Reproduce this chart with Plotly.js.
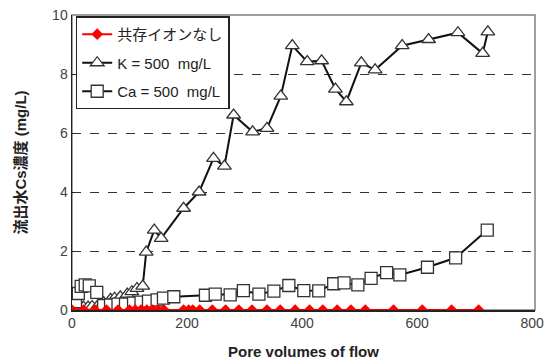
<!DOCTYPE html>
<html>
<head>
<meta charset="utf-8">
<script src="https://cdn.plot.ly/plotly-3.0.1.min.js"></script>
<style>html,body{margin:0;padding:0;background:#fff;}#chart{width:552px;height:363px;}</style>
</head>
<body>
<div id="chart"></div>
<script>
// Series names
const seriesNames = ["共存イオンなし", "K = 500  mg/L", "Ca = 500  mg/L"];

// No co-existing ions (red diamonds)
const noneX = [0, 20, 40, 60, 80, 100, 110, 120, 130, 140, 150, 160, 194, 203, 210, 222, 244, 267, 290, 313, 339, 362, 388, 413, 436, 461, 485, 510, 559, 609, 660, 707];
const noneY = [0, 0, 0, 0, 0, 0, 0, 0, 0, 0, 0, 0, 0, 0, 0, 0, 0, 0, 0, 0, 0, 0, 0, 0, 0, 0, 0, 0, 0, 0, 0, 0];

// K = 500 mg/L (open triangles)
const kX = [3, 10, 20, 28, 35, 45, 55, 67, 74, 84, 96, 104, 113, 123, 129, 143, 155, 194, 221, 246, 265, 281, 314, 339, 363, 383, 409, 434, 458, 477, 503, 527, 574, 620, 671, 714, 723];
const kY = [0.02, 0.05, 0.1, 0.1, 0.12, 0.15, 0.25, 0.36, 0.40, 0.45, 0.54, 0.62, 0.73, 0.81, 1.96, 2.71, 2.43, 3.45, 4.0, 5.14, 4.88, 6.61, 6.04, 6.16, 7.25, 8.96, 8.42, 8.45, 7.49, 7.06, 8.38, 8.14, 8.96, 9.17, 9.40, 8.70, 9.43];

// Ca = 500 mg/L (open squares)
const caX = [3, 6, 11, 16, 23, 30, 43, 55, 67, 80, 93, 107, 120, 133, 148, 159, 177, 232, 249, 275, 298, 325, 351, 377, 403, 429, 455, 473, 497, 520, 547, 570, 618, 667, 722];
const caY = [0.55, 0.28, 0.56, 0.8, 0.85, 0.82, 0.6, 0.15, 0.17, 0.2, 0.2, 0.23, 0.27, 0.3, 0.34, 0.4, 0.45, 0.5, 0.54, 0.51, 0.66, 0.54, 0.64, 0.83, 0.66, 0.65, 0.89, 0.92, 0.85, 1.07, 1.27, 1.19, 1.45, 1.77, 2.71];

// Axis ticks
const xTicks = [0, 200, 400, 600, 800];
const yTicks = [0, 2, 4, 6, 8, 10];

const traces = [
  {
    x: kX, y: kY, name: seriesNames[1], legendrank: 2, legendgroup: "k",
    mode: "lines+markers", type: "scatter",
    line: {color: "#111", width: 2},
    marker: {symbol: "triangle-up", size: 12, color: "#fff", line: {color: "#333", width: 1.3}}
  },
  {
    x: caX, y: caY, name: seriesNames[2], legendrank: 3, legendgroup: "ca",
    mode: "lines+markers", type: "scatter",
    line: {color: "#111", width: 2},
    marker: {symbol: "square", size: 12, color: "#fff", line: {color: "#333", width: 1.3}}
  },
  {
    x: noneX, y: noneY, name: seriesNames[0], legendrank: 1, legendgroup: "none",
    mode: "lines+markers", type: "scatter",
    line: {color: "#ff0000", width: 2},
    marker: {symbol: "diamond", size: 9, color: "#ff0000"}
  }
];

const fontFam = "Liberation Sans, Arial, Noto Sans CJK JP, sans-serif";

const layout = {
  width: 552, height: 363,
  margin: {l: 72, r: 17, t: 15, b: 53},
  paper_bgcolor: "#fff", plot_bgcolor: "#fff",
  font: {family: fontFam, size: 14, color: "#404040"},
  showlegend: true,
  legend: {
    x: 0.008, y: 0.995, xanchor: "left", yanchor: "top",
    bordercolor: "#222", borderwidth: 1.5, bgcolor: "#fff",
    font: {family: fontFam, size: 15, color: "#222"},
    tracegroupgap: 6, itemwidth: 30
  },
  xaxis: {
    range: [0, 805], tickvals: xTicks, ticktext: xTicks.map(String),
    showgrid: false, zeroline: false,
    showline: true, linecolor: "#222", linewidth: 1.5,
    ticks: "", tickfont: {size: 14, color: "#404040"},
    title: {text: "<b>Pore volumes of flow</b>", font: {size: 15, color: "#222"}, standoff: 16}
  },
  yaxis: {
    range: [0, 10], tickvals: yTicks, ticktext: yTicks.map(String),
    showgrid: true, gridcolor: "#333", griddash: "dash", gridwidth: 1,
    zeroline: false,
    showline: true, linecolor: "#222", linewidth: 1.5,
    ticks: "inside", ticklen: 3, tickcolor: "#222",
    tickfont: {size: 14, color: "#404040"},
    title: {text: "<b>流出水Cs濃度 (mg/L)</b>", font: {size: 15, color: "#222"}, standoff: 22}
  },
  shapes: [{
    type: "rect", xref: "paper", yref: "paper", x0: 0, y0: 0, x1: 1, y1: 1,
    line: {color: "#808080", width: 1.5}, layer: "below"
  }]
};

Plotly.newPlot("chart", traces, layout, {displayModeBar: false, staticPlot: true});
</script>
</body>
</html>
